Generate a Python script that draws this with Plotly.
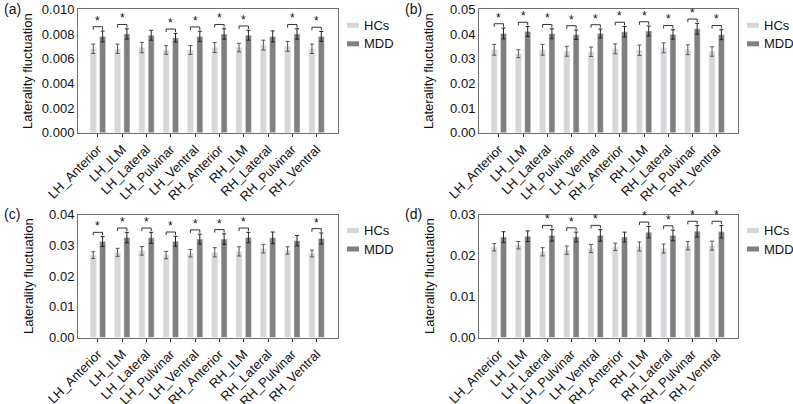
import plotly.graph_objects as go

regions = ["LH_Anterior", "LH_ILM", "LH_Lateral", "LH_Pulvinar", "LH_Ventral",
           "RH_Anterior", "RH_ILM", "RH_Lateral", "RH_Pulvinar", "RH_Ventral"]
groups = ["HCs", "MDD"]

# Panel (a)
a_hc = [0.0068, 0.0068, 0.0069, 0.0067, 0.0067, 0.0069, 0.0069, 0.0071, 0.0070, 0.0068]
a_mdd = [0.0078, 0.0080, 0.0079, 0.0077, 0.0078, 0.0080, 0.0079, 0.0078, 0.0080, 0.0078]
a_hc_err = [0.00038, 0.00038, 0.00042, 0.00035, 0.00036, 0.00040, 0.00035, 0.00040, 0.00040, 0.00038]
a_mdd_err = [0.00044, 0.00042, 0.00040, 0.00035, 0.00042, 0.00042, 0.00040, 0.00045, 0.00042, 0.00040]
a_sig = [1, 1, 0, 1, 1, 1, 1, 0, 1, 1]

# Panel (b)
b_hc = [0.0336, 0.0320, 0.0336, 0.0330, 0.0328, 0.0340, 0.0334, 0.0344, 0.0336, 0.0329]
b_mdd = [0.0402, 0.0410, 0.0401, 0.0397, 0.0402, 0.0409, 0.0412, 0.0398, 0.0421, 0.0397]
b_hc_err = [0.0022, 0.0016, 0.0022, 0.0020, 0.0019, 0.0020, 0.0021, 0.0020, 0.0020, 0.0019]
b_mdd_err = [0.0022, 0.0020, 0.0020, 0.0019, 0.0018, 0.0021, 0.0020, 0.0019, 0.0022, 0.0020]
b_sig = [1, 1, 1, 1, 1, 1, 1, 1, 1, 1]

# Panel (c)
c_hc = [0.0268, 0.0277, 0.0282, 0.0268, 0.0274, 0.0277, 0.0280, 0.0289, 0.0283, 0.0273]
c_mdd = [0.0312, 0.0325, 0.0324, 0.0313, 0.0320, 0.0320, 0.0325, 0.0324, 0.0315, 0.0322]
c_hc_err = [0.0011, 0.0013, 0.0014, 0.0012, 0.0012, 0.0015, 0.0015, 0.0014, 0.0012, 0.0011]
c_mdd_err = [0.0016, 0.0017, 0.0018, 0.0016, 0.0016, 0.0017, 0.0017, 0.0019, 0.0017, 0.0018]
c_sig = [1, 1, 1, 1, 1, 1, 1, 0, 0, 1]

# Panel (d)
d_hc = [0.0220, 0.0225, 0.0209, 0.0213, 0.0217, 0.0221, 0.0222, 0.0217, 0.0224, 0.0224]
d_mdd = [0.0245, 0.0247, 0.0249, 0.0245, 0.0249, 0.0245, 0.0257, 0.0249, 0.0259, 0.0258]
d_hc_err = [0.0009, 0.0009, 0.0010, 0.0010, 0.0010, 0.0009, 0.0011, 0.0011, 0.0010, 0.0011]
d_mdd_err = [0.0013, 0.0013, 0.0014, 0.0012, 0.0014, 0.0012, 0.0014, 0.0013, 0.0014, 0.0015]
d_sig = [0, 0, 1, 1, 1, 0, 1, 1, 1, 1]

panels = [
    ("(a)", a_hc, a_mdd, a_hc_err, a_mdd_err, a_sig, 0.010, 0.002, ".3f"),
    ("(b)", b_hc, b_mdd, b_hc_err, b_mdd_err, b_sig, 0.05, 0.01, ".2f"),
    ("(c)", c_hc, c_mdd, c_hc_err, c_mdd_err, c_sig, 0.04, 0.01, ".2f"),
    ("(d)", d_hc, d_mdd, d_hc_err, d_mdd_err, d_sig, 0.03, 0.01, ".2f"),
]

W, H = 793, 404
FONT = "Arial, Liberation Sans, sans-serif"
HC_COLOR = "#d6d6d6"
MDD_COLOR = "#7f7f7f"
FRAME = "#707070"
TXT = "#111111"

# pixel boxes (left, right, top, bottom)
boxes = [(78, 338, 9.3, 132.7), (479, 738, 9.3, 132.7),
         (78, 338, 214.5, 337.5), (479, 738, 214.5, 337.5)]

BARGAP = 0.23
BARGROUPGAP = 0.36
OFF = (1 - BARGAP) / 4.0  # bar center offset from category center

fig = go.Figure()
shapes = []
annotations = []
layout = {}

for k, (lab, hc, mdd, hce, mdde, sig, ymax, dtick, fmt) in enumerate(panels):
    sfx = "" if k == 0 else str(k + 1)
    xa, ya = "x" + sfx, "y" + sfx
    fig.add_trace(go.Bar(x=regions, y=hc, marker_color=HC_COLOR, name=groups[0],
                         error_y=dict(type="data", array=hce, color="#555555", thickness=1, width=2),
                         xaxis=xa, yaxis=ya, showlegend=False))
    fig.add_trace(go.Bar(x=regions, y=mdd, marker_color=MDD_COLOR, name=groups[1],
                         error_y=dict(type="data", array=mdde, color="#222222", thickness=1, width=2),
                         xaxis=xa, yaxis=ya, showlegend=False))
    L, R, T, B = boxes[k]
    xd = [L / W, R / W]
    yd = [1 - B / H, 1 - T / H]
    layout["xaxis" + sfx] = dict(domain=xd, anchor=ya, range=[-0.82, 9.88], tickangle=-45,
                                 showline=True, mirror=True, linecolor=FRAME, linewidth=1,
                                 ticks="outside", ticklen=3, tickcolor="#333333", automargin=False,
                                 tickfont=dict(size=13, color=TXT, family=FONT))
    layout["yaxis" + sfx] = dict(domain=yd, anchor=xa, range=[0, ymax], dtick=dtick, tickformat=fmt,
                                 showline=True, mirror=True, linecolor=FRAME, linewidth=1,
                                 ticks="", showgrid=False, zeroline=False, automargin=False,
                                 tickfont=dict(size=13, color=TXT, family=FONT))
    # y title
    annotations.append(dict(text="Laterality fluctuation", xref="paper", yref="paper",
                            x=(L - 50) / W, y=1 - (T + B) / 2 / H, textangle=-90,
                            showarrow=False, xanchor="center", yanchor="middle",
                            font=dict(size=13, color=TXT, family=FONT)))
    annotations.append(dict(text=lab, xref="paper", yref="paper",
                            x=(L - 76) / W, y=1 - (T - 0.5) / H, showarrow=False,
                            xanchor="left", yanchor="middle",
                            font=dict(size=14, color=TXT, family=FONT)))
    # legend (drawn manually next to each panel)
    for j, (nm, col) in enumerate(zip(groups, (HC_COLOR, MDD_COLOR))):
        ly = T + 16 + j * 18.5
        shapes.append(dict(type="line", xref="paper", yref="paper",
                           x0=(R + 9) / W, x1=(R + 21) / W, y0=1 - ly / H, y1=1 - ly / H,
                           line=dict(color=col, width=5)))
        annotations.append(dict(text=nm, xref="paper", yref="paper", x=(R + 24) / W, y=1 - ly / H,
                                showarrow=False, xanchor="left", yanchor="middle",
                                font=dict(size=13, color=TXT, family=FONT)))
    # significance brackets
    for i, s in enumerate(sig):
        if not s:
            continue
        top = max(hc[i] + hce[i], mdd[i] + mdde[i])
        yb = top + 0.035 * ymax
        leg_len = 0.025 * ymax
        x0, x1 = i - OFF, i + OFF
        for (xs, ys, xe, ye) in ((x0, yb - leg_len, x0, yb), (x0, yb, x1, yb), (x1, yb, x1, yb - leg_len)):
            shapes.append(dict(type="line", xref=xa, yref=ya, x0=xs, y0=ys, x1=xe, y1=ye,
                               line=dict(color="#333333", width=1)))
        annotations.append(dict(text="*", xref=xa, yref=ya, x=i, y=yb, showarrow=False,
                                xanchor="center", yanchor="bottom", yshift=-3,
                                font=dict(size=12, color=TXT, family=FONT)))

fig.update_layout(**layout)
fig.update_layout(width=W, height=H, margin=dict(l=0, r=0, t=0, b=0, autoexpand=False),
                  paper_bgcolor="white", plot_bgcolor="white", showlegend=False,
                  barmode="group", bargap=BARGAP, bargroupgap=BARGROUPGAP,
                  shapes=shapes, annotations=annotations,
                  font=dict(family=FONT, size=13, color=TXT))

fig.write_html("out.html", config={"displayModeBar": False},
               post_script="document.body.style.margin='0';document.body.style.overflow='hidden';")
